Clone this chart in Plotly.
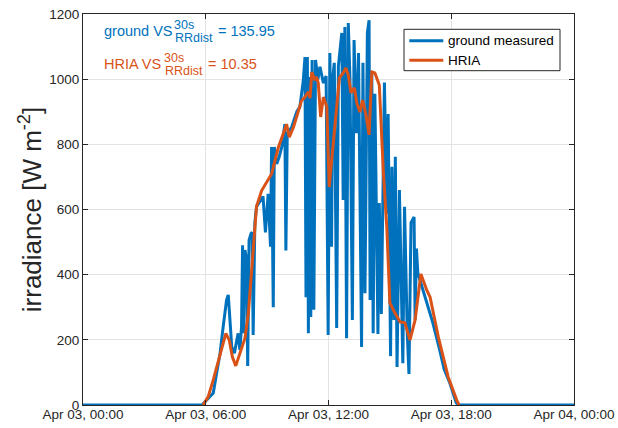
import pandas as pd
import plotly.graph_objects as go

DAY = "2019-04-03"

# ground measured irradiance (time of day, W m^-2)
ground_time = ["00:00","05:49","06:07","06:22","06:32","06:42","06:51","07:01","07:06","07:09",
               "07:13","07:16","07:24","07:31","07:35","07:40","07:45","07:48","07:51","07:55",
               "08:00","08:03","08:07","08:13","08:16","08:19","08:24","08:29","08:39","08:48",
               "08:55","09:03","09:10","09:13","09:18","09:21","09:28","09:35","09:43","09:52",
               "09:55","09:59","10:12","10:27","10:36","10:46","10:51","10:54","10:58","11:01",
               "11:04","11:08","11:12","11:17","11:22","11:29","11:35","11:45","11:53","11:59",
               "12:04","12:09","12:12","12:17","12:24","12:29","12:39","12:43","12:48","12:53",
               "12:58","13:03","13:10","13:15","13:22","13:28","13:37","13:41","13:47","13:54",
               "13:59","14:02","14:07","14:11","14:16","14:20","14:25","14:29","14:35","14:44",
               "14:51","14:55","15:02","15:06","15:12","15:16","15:21","15:28","15:38","15:43",
               "15:51","15:56","16:02","16:11","16:14","16:18","16:22","16:37","16:52","17:06",
               "17:26","17:39","17:56","18:15","18:23","24:00"]
ground_value = [0, 0, 20, 37, 98, 159, 240, 322, 338, 302,
                230, 179, 159, 199, 220, 169, 240, 490, 220, 476,
                445, 120, 506, 527, 530, 215, 560, 609, 627, 640,
                530, 648, 486, 792, 300, 792, 740, 760, 792, 862,
                474, 832, 853, 900, 915, 995, 1068, 331, 1068, 220,
                1007, 270, 1059, 292, 1059, 1000, 1038, 988, 1010, 215,
                1080, 486, 1000, 1050, 236, 1040, 1142, 629, 1160, 205,
                1172, 1000, 261, 1120, 834, 1080, 178, 1050, 343, 1142,
                1181, 322, 1026, 220, 955, 535, 218, 620, 279, 990,
                586, 893, 150, 731, 261, 762, 117, 660, 128, 608,
                220, 95, 560, 577, 261, 480, 405, 353, 300, 252,
                169, 110, 67, 6, 0, 0]

# HRIA estimate
hria_time = ["05:52","06:07","06:22","06:32","06:47","06:59","07:09","07:18","07:28","07:40",
             "07:55","08:05","08:15","08:22","08:29","08:44","08:59","09:13","09:23","09:33",
             "09:47","09:57","10:05","10:17","10:31","10:41","10:51","11:01","11:06","11:11",
             "11:20","11:25","11:30","11:37","11:45","11:55","12:02","12:09","12:24","12:32",
             "12:43","12:51","12:58","13:06","13:16","13:23","13:32","13:40","13:50","13:59",
             "14:07","14:16","14:29","14:41","14:51","15:00","15:15","15:30","15:44","15:59",
             "16:14","16:31","16:48","16:58","17:22","17:51","18:16","18:23"]
hria_value = [0, 25, 77, 118, 179, 220, 199, 148, 120, 159,
              205, 282, 424, 540, 610, 658, 684, 709, 750, 791,
              832, 862, 822, 852, 900, 934, 945, 961, 942, 1022,
              997, 1007, 988, 884, 945, 915, 669, 743, 915, 1004,
              1019, 1034, 1013, 958, 973, 927, 899, 936, 890, 829,
              1022, 1019, 982, 712, 546, 313, 282, 255, 252, 199,
              261, 402, 353, 331, 209, 86, 15, 0]

series_names = ["ground measured", "HRIA"]
score_labels = ["ground", "HRIA"]
score_values = [135.95, 10.35]

BLUE = "#0072BD"
ORANGE = "#D95319"
FONT = "Liberation Sans"
AXC = "#262626"

L, R, T, B = 83, 44, 14, 23
W, H = 618, 428
PW, PH = W - L - R, H - T - B


def to_dt(times):
    base = pd.Timestamp(DAY)
    return [base + pd.to_timedelta(t + ":00") for t in times]


def px_x(p):
    return (p - L) / PW


def px_y(p):
    return (H - B - p) / PH


fig = go.Figure()
fig.add_trace(go.Scatter(x=to_dt(ground_time), y=ground_value, mode="lines",
                         name=series_names[0], line=dict(color=BLUE, width=3)))
fig.add_trace(go.Scatter(x=to_dt(hria_time), y=hria_value, mode="lines",
                         name=series_names[1], line=dict(color=ORANGE, width=3)))

axis_common = dict(showline=True, linecolor=AXC, linewidth=1, mirror="ticks",
                   ticks="inside", ticklen=5, tickcolor=AXC, showgrid=True,
                   gridcolor="#e3e3e3", gridwidth=1, zeroline=False, automargin=False,
                   tickfont=dict(family=FONT, size=13.5, color=AXC))

fig.update_xaxes(range=[pd.Timestamp(DAY), pd.Timestamp(DAY) + pd.Timedelta(days=1)],
                 dtick=6 * 3600 * 1000, tickformat="%b %d, %H:%M",
                 ticklabelstandoff=-3, **axis_common)
fig.update_yaxes(range=[0, 1200], dtick=200,
                 title=dict(text="irradiance [W m<sup>-2</sup>]",
                            font=dict(family=FONT, size=26, color=AXC), standoff=0),
                 **axis_common)

# score annotations with stacked super/subscript
main_size = 14.5
small_size = 12.5
rows = [
    (score_labels[0] + " VS", score_values[0], BLUE, 36.5, 103.3, 173.3, 216.7),
    (score_labels[1] + " VS", score_values[1], ORANGE, 69.0, 103.3, 163.3, 206.7),
]
for label, val, col, base, x0, x1, x2 in rows:
    items = [
        (label, x0, base, main_size),
        ("30s", x1, base - 7.0, small_size),
        ("RRdist", x1 + 0.5, base + 6.3, small_size),
        ("= %.2f" % val, x2, base, main_size),
    ]
    for txt, xp, bl, sz in items:
        fig.add_annotation(text=txt, xref="paper", yref="paper",
                           x=px_x(xp), y=px_y(bl - 0.3465 * sz),
                           xanchor="left", yanchor="middle", showarrow=False,
                           borderpad=0,
                           font=dict(family=FONT, size=sz, color=col))

# legend box (MATLAB style, compact)
lx0, lx1, ly0, ly1 = 404, 560, 29.3, 70.7
fig.add_shape(type="rect", xref="paper", yref="paper",
              x0=px_x(lx0), x1=px_x(lx1), y0=px_y(ly1), y1=px_y(ly0),
              line=dict(color=AXC, width=1), fillcolor="white", layer="above")
for name, col, yy in [(series_names[0], BLUE, 40.7), (series_names[1], ORANGE, 60.2)]:
    fig.add_shape(type="line", xref="paper", yref="paper",
                  x0=px_x(409.3), x1=px_x(443.3), y0=px_y(yy), y1=px_y(yy),
                  line=dict(color=col, width=3), layer="above")
    fig.add_annotation(text=name, xref="paper", yref="paper",
                       x=px_x(446.7), y=px_y(yy), xanchor="left", yanchor="middle",
                       showarrow=False, borderpad=0,
                       font=dict(family=FONT, size=13.5, color="black"))

fig.update_layout(
    width=W, height=H,
    margin=dict(l=L, r=R, t=T, b=B),
    paper_bgcolor="white", plot_bgcolor="white",
    showlegend=False,
    font=dict(family=FONT),
)

fig.write_html("out.html", config={"displayModeBar": False},
               post_script="document.body.style.margin='0';"
                           "document.body.style.overflow='hidden';")
